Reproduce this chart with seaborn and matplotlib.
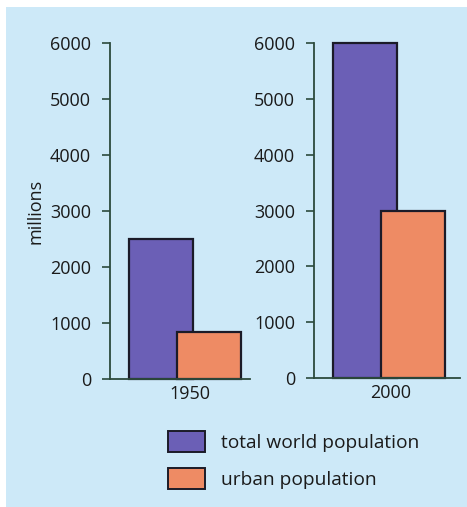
import matplotlib
matplotlib.use("Agg")
import matplotlib.pyplot as plt
from matplotlib.patches import Patch, Rectangle
import pandas as pd
import seaborn as sns

# Population figures (millions)
years = ["1950", "2000"]
series = ["total world population", "urban population"]
total_population = [2500, 6000]
urban_population = [840, 3000]
y_ticks = [0, 1000, 2000, 3000, 4000, 5000, 6000]

BG = "#cde9f8"
PURPLE = "#6b5fb6"
ORANGE = "#ee8b64"
AXIS = "#2c4a3c"
EDGE = "#1b1b28"
TEXT = "#1a1a1a"

sns.set_theme(style="white")
plt.rcParams["font.family"] = ["Open Sans", "DejaVu Sans"]

W, H = 467, 507
fig = plt.figure(figsize=(W / 100, H / 100), dpi=100, facecolor="white")
# light blue panel behind the chart
fig.patches.append(Rectangle((6 / W, 0), 1, 1 - 7 / H, transform=fig.transFigure,
                             facecolor=BG, edgecolor="none", zorder=-10))


def px_axes(left, right, top, bottom):
    return fig.add_axes([left / W, 1 - bottom / H, (right - left) / W, (bottom - top) / H])


axes = [px_axes(110, 250, 43, 379), px_axes(314, 460, 43, 378)]

for i, ax in enumerate(axes):
    df = pd.DataFrame({
        "series": series,
        "value": [total_population[i], urban_population[i]],
    })
    sns.barplot(data=df, x="series", y="value", hue="series", order=series,
                hue_order=series, palette=[PURPLE, ORANGE], width=1.32,
                edgecolor=EDGE, linewidth=1.6, saturation=1, legend=False, ax=ax)
    for p in ax.patches:
        p.set_clip_on(False)
    ax.set_facecolor("none")
    ax.set_xlim(-1.05, 1.85 if i == 0 else 1.96)
    ax.set_ylim(0, 6000)
    ax.set_yticks(y_ticks)
    ax.set_yticklabels([str(t) for t in y_ticks], fontsize=13, color=TEXT)
    ax.set_xticks([0.6 if i == 0 else 0.54])
    ax.set_xticklabels([years[i]], fontsize=13, color=TEXT)
    ax.tick_params(axis="y", direction="out", length=5.5, width=1.2, color=AXIS,
                   pad=8, left=True)
    ax.tick_params(axis="x", length=0, pad=4)
    ax.set_xlabel("")
    ax.set_ylabel("")
    for side in ["top", "right"]:
        ax.spines[side].set_visible(False)
    for side in ["left", "bottom"]:
        ax.spines[side].set_color(AXIS)
        ax.spines[side].set_linewidth(1.3)

axes[0].set_ylabel("millions", fontsize=13, color=TEXT, labelpad=4)

handles = [Patch(facecolor=PURPLE, edgecolor=EDGE, linewidth=1.4),
           Patch(facecolor=ORANGE, edgecolor=EDGE, linewidth=1.4)]
fig.legend(handles, series, loc="upper left", bbox_to_anchor=(151 / W, 1 - 414 / H),
           frameon=False, fontsize=13.8, handlelength=1.9, handleheight=1.3,
           handletextpad=0.85, labelspacing=0.85, labelcolor=TEXT)

fig.savefig("out.png", dpi=100, facecolor="white")
